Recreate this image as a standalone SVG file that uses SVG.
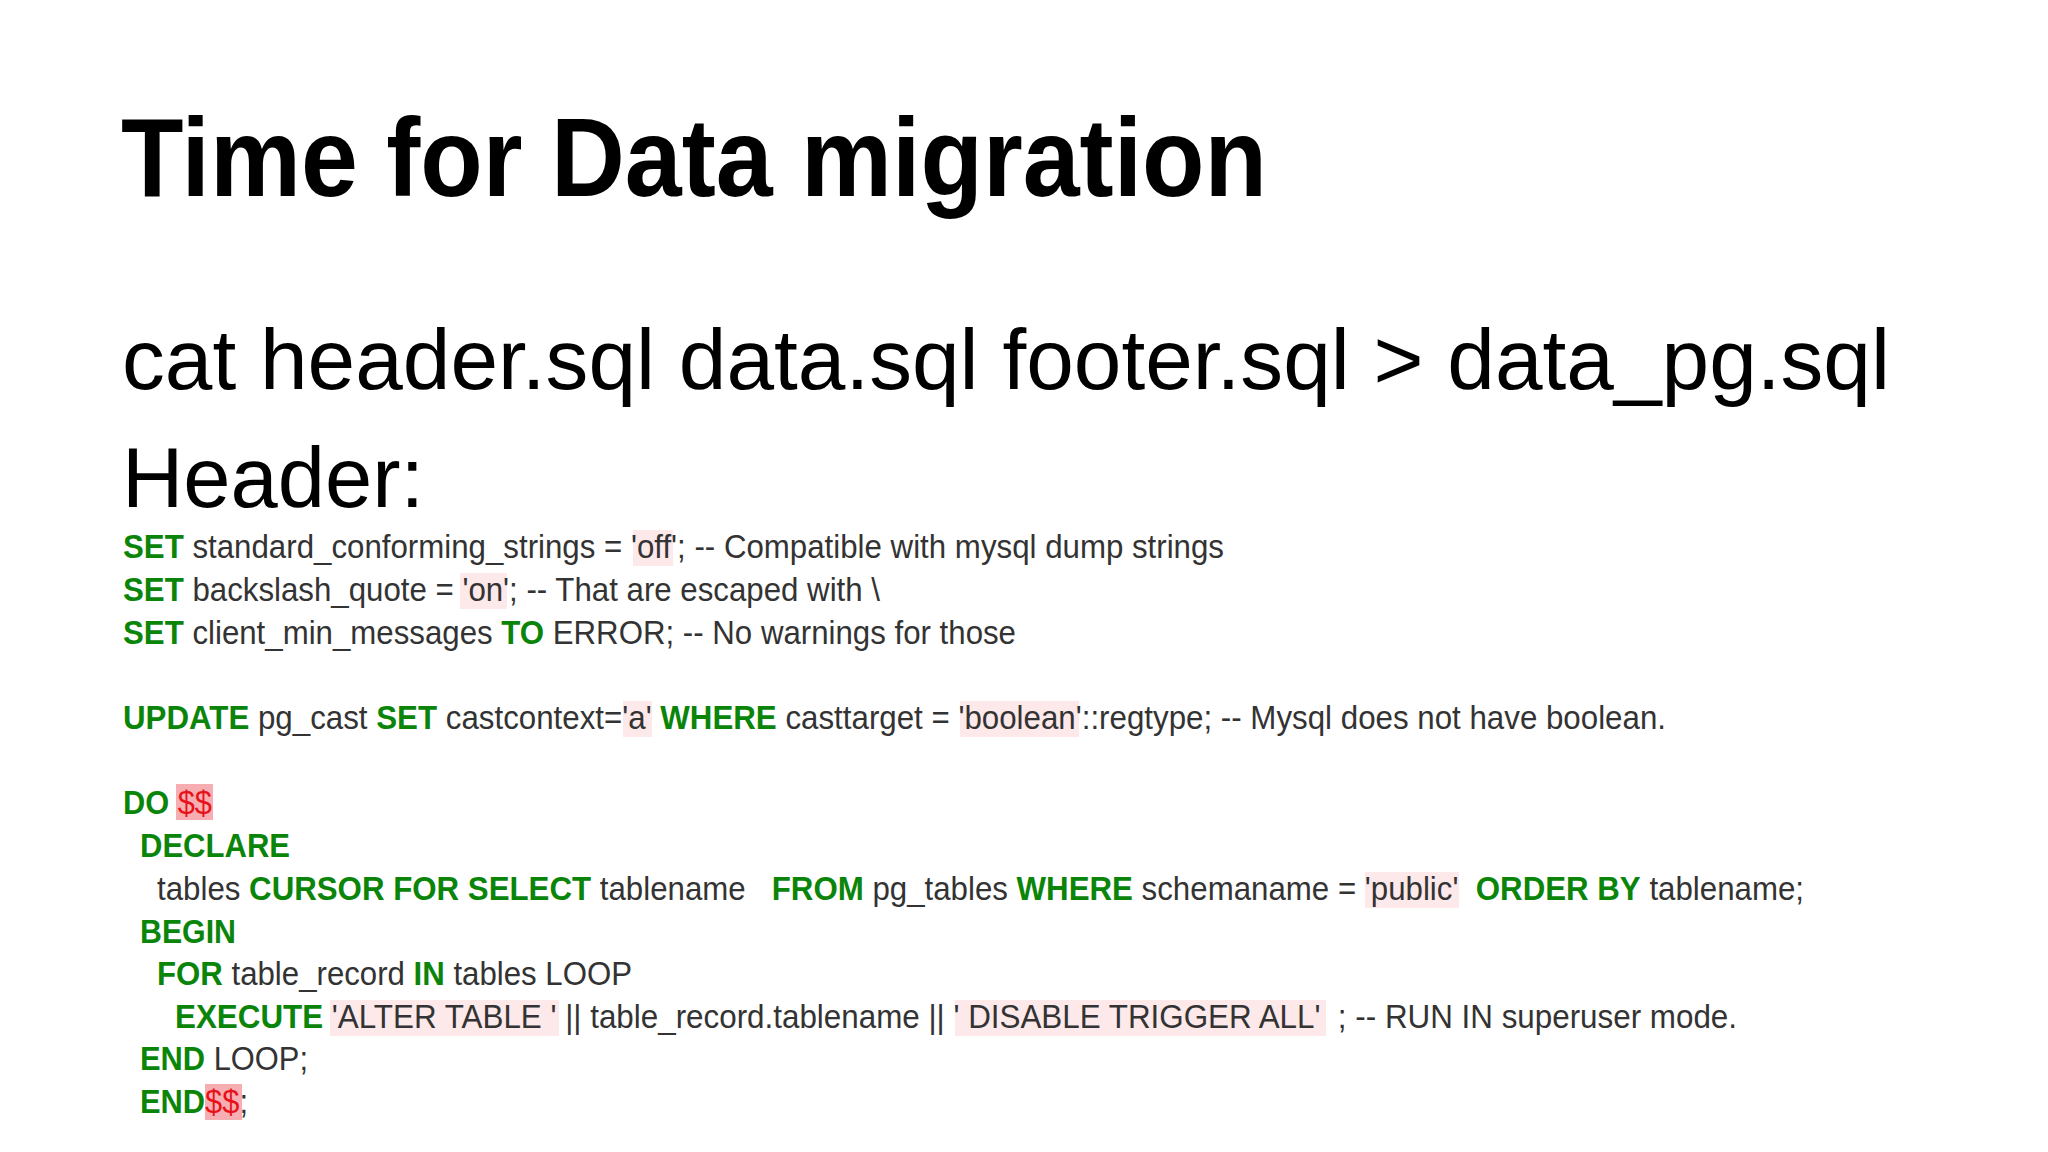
<svg xmlns="http://www.w3.org/2000/svg" width="2048" height="1152" viewBox="0 0 2048 1152">
<style>
text{font-family:"Liberation Sans",Arial,sans-serif;}
.t{font-weight:bold;font-size:112px;fill:#000}
.h{font-size:86px;fill:#000}
.c{font-size:34px;fill:#333}
.k{font-weight:bold;fill:#0a850a}
.r{fill:#e8121a}
.hl{fill:#fde8ea}
.hd{fill:#f6aeb2}
</style>
<rect width="2048" height="1152" fill="#fff"/>
<g id="highlights">
<rect class="hl" x="633" y="530" width="40" height="36"/>
<rect class="hl" x="460" y="573" width="47" height="36"/>
<rect class="hl" x="623" y="701" width="29" height="36"/>
<rect class="hl" x="960" y="701" width="119" height="36"/>
<rect class="hd" x="176" y="784" width="37" height="36"/>
<rect class="hl" x="1365" y="872" width="94" height="36"/>
<rect class="hl" x="330" y="1000" width="229" height="36"/>
<rect class="hl" x="955" y="1000" width="371" height="36"/>
<rect class="hd" x="205" y="1084" width="37" height="36"/>
</g>
<g id="title"><text class="t" x="121" y="196" textLength="1146" lengthAdjust="spacingAndGlyphs">Time for Data migration</text></g>
<g id="cmd"><text class="h" x="122" y="389" textLength="1768" lengthAdjust="spacingAndGlyphs">cat header.sql data.sql footer.sql &gt; data_pg.sql</text></g>
<g id="header"><text class="h" x="122" y="507" textLength="302" lengthAdjust="spacingAndGlyphs">Header:</text></g>
<g id="code" class="c">
<text class="c" x="123" y="558" textLength="1101" lengthAdjust="spacingAndGlyphs"><tspan class="k">SET</tspan> standard_conforming_strings = 'off'; -- Compatible with mysql dump strings</text>
<text class="c" x="123" y="601" textLength="757" lengthAdjust="spacingAndGlyphs"><tspan class="k">SET</tspan> backslash_quote = 'on'; -- That are escaped with \</text>
<text class="c" x="123" y="644" textLength="893" lengthAdjust="spacingAndGlyphs"><tspan class="k">SET</tspan> client_min_messages <tspan class="k">TO</tspan> ERROR; -- No warnings for those</text>
<text class="c" x="123" y="729" textLength="1543" lengthAdjust="spacingAndGlyphs"><tspan class="k">UPDATE</tspan> pg_cast <tspan class="k">SET</tspan> castcontext='a' <tspan class="k">WHERE</tspan> casttarget = 'boolean'::regtype; -- Mysql does not have boolean.</text>
<text class="c" x="123" y="814" textLength="89" lengthAdjust="spacingAndGlyphs"><tspan class="k">DO</tspan> <tspan class="r">$$</tspan></text>
<text class="c k" x="140" y="857" textLength="150" lengthAdjust="spacingAndGlyphs">DECLARE</text>
<text class="c" x="157" y="900" textLength="1647" lengthAdjust="spacingAndGlyphs" xml:space="preserve">tables <tspan class="k">CURSOR FOR SELECT</tspan> tablename   <tspan class="k">FROM</tspan> pg_tables <tspan class="k">WHERE</tspan> schemaname = 'public'  <tspan class="k">ORDER BY</tspan> tablename;</text>
<text class="c k" x="140" y="943" textLength="96" lengthAdjust="spacingAndGlyphs">BEGIN</text>
<text class="c" x="157" y="985" textLength="475" lengthAdjust="spacingAndGlyphs"><tspan class="k">FOR</tspan> table_record <tspan class="k">IN</tspan> tables LOOP</text>
<text class="c" x="175" y="1028" textLength="1562" lengthAdjust="spacingAndGlyphs" xml:space="preserve"><tspan class="k">EXECUTE</tspan> 'ALTER TABLE ' || table_record.tablename || ' DISABLE TRIGGER ALL'  ; -- RUN IN superuser mode.</text>
<text class="c" x="140" y="1070" textLength="168" lengthAdjust="spacingAndGlyphs"><tspan class="k">END</tspan> LOOP;</text>
<text class="c" x="140" y="1113" textLength="108" lengthAdjust="spacingAndGlyphs"><tspan class="k">END</tspan><tspan class="r">$$</tspan>;</text>
</g>
</svg>
